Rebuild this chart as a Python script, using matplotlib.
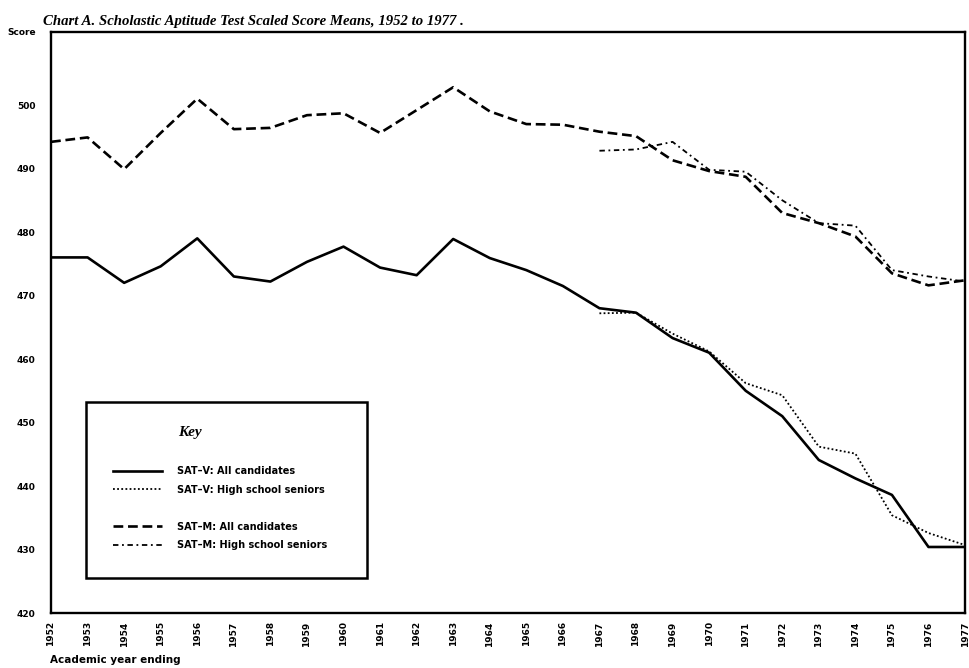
import matplotlib
matplotlib.use('Agg')
import matplotlib.pyplot as plt
from matplotlib.lines import Line2D

# Años académicos
years = list(range(1952, 1978))
years_hs = list(range(1967, 1978))

# Medias
sat_v_all = [476, 476, 472, 474.6, 479, 473, 472.2, 475.3, 477.7, 474.4, 473.2, 478.9, 475.9,
             474, 471.5, 468, 467.3, 463.3, 461, 455, 451, 444.1, 441.2, 438.6, 430.4, 430.4]
sat_v_hs = [467.2, 467.3, 464.0, 461.2, 456.2, 454.3, 446.2, 445.1, 435.4, 432.6, 430.7]
sat_m_all = [494.2, 494.9, 489.9, 495.6, 501.0, 496.2, 496.4, 498.4, 498.7, 495.6, 499.2, 502.8, 499,
             497, 496.9, 495.8, 495.1, 491.3, 489.6, 488.7, 483.0, 481.4, 479.3, 473.5, 471.6, 472.4]
sat_m_hs = [492.8, 493.0, 494.2, 489.8, 489.5, 485.0, 481.4, 481.0, 474.0, 473.0, 472.2]

y_ticks = [420, 430, 440, 450, 460, 470, 480, 490, 500]
y_top = 511.5

fig = plt.figure(figsize=(9.7, 6.68), dpi=100)
ax = fig.add_axes([0.0526, 0.0823, 0.9423, 0.8698])

ax.plot(years, sat_v_all, color='black', linewidth=1.9, label='SAT–V: All candidates')
ax.plot(years_hs, sat_v_hs, color='black', linewidth=1.3, linestyle=(0, (1, 1.3)),
        label='SAT–V: High school seniors')
ax.plot(years, sat_m_all, color='black', linewidth=1.9, linestyle=(0, (3.7, 1.8)),
        label='SAT–M: All candidates')
ax.plot(years_hs, sat_m_hs, color='black', linewidth=1.3, linestyle=(0, (3, 2, 1, 2)),
        label='SAT–M: High school seniors')

ax.set_xlim(1952, 1977)
ax.set_ylim(420, y_top)

ax.set_xticks(years)
ax.set_xticklabels([str(y) for y in years], rotation=90, fontsize=6.5, fontweight='bold')
ax.set_yticks(y_ticks + [y_top])
ax.set_yticklabels([str(v) for v in y_ticks] + ['Score'], fontsize=6.5, fontweight='bold')
ax.tick_params(axis='both', length=0)
ax.tick_params(axis='y', pad=11)
ax.tick_params(axis='x', pad=6)

for s in ax.spines.values():
    s.set_linewidth(1.7)

# Título y etiqueta del eje x
fig.text(0.044, 0.968, 'Chart A. Scholastic Aptitude Test Scaled Score Means, 1952 to 1977 .',
         fontsize=10.6, fontweight='bold', fontstyle='italic', family='Liberation Serif', va='center')
fig.text(0.052, 0.012, 'Academic year ending', fontsize=7.5, fontweight='bold', va='center')

# Leyenda ("Key")
handles, labels = ax.get_legend_handles_labels()
spacer = Line2D([], [], color='none')
handles = handles[:2] + [spacer] + handles[2:]
labels = labels[:2] + [' '] + labels[2:]
leg = ax.legend(handles, labels, loc='lower left', bbox_to_anchor=(0.038, 0.060, 0.308, 0.30),
                mode='expand', borderaxespad=0, title=' ', title_fontsize=20,
                prop=dict(weight='bold', size=7),
                handlelength=5, handletextpad=1.5, labelspacing=0.88, borderpad=2.85,
                fancybox=False, edgecolor='black', framealpha=1)
leg.get_frame().set_linewidth(1.8)
ax.text(0.139, 0.3115, 'Key', transform=ax.transAxes, fontsize=11, fontweight='bold',
        fontstyle='italic', family='Liberation Serif', va='center', ha='left', zorder=10)

fig.savefig('out.png', dpi=100)
